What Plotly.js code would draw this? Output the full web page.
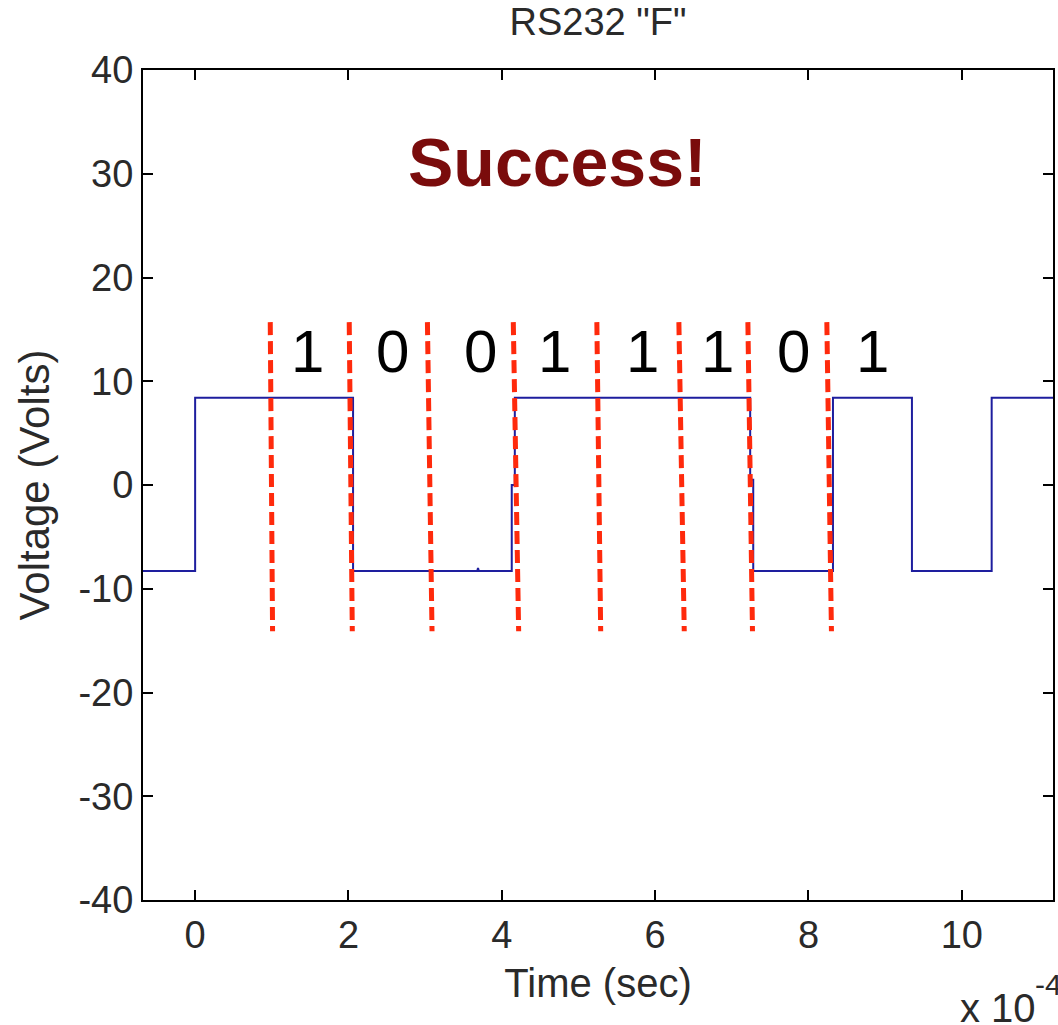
<!DOCTYPE html>
<html>
<head>
<meta charset="utf-8">
<script src="https://cdn.plot.ly/plotly-3.0.1.min.js"></script>
<style>
html,body{margin:0;padding:0;overflow:hidden;background:#fff;}
#chart{width:1058px;height:1025px;}
</style>
</head>
<body>
<div id="chart"></div>
<script>
// Signal (time in units of 1e-4 s, voltage in volts)
const timeX   = [-0.7, 0.0, 0.0, 2.06, 2.06, 3.68, 3.69, 3.70, 4.13, 4.13, 4.17, 4.17, 7.24, 7.24, 7.28, 7.28, 8.32, 8.32, 9.35, 9.35, 10.39, 10.39, 11.3];
const voltage = [-8.3, -8.3, 8.4, 8.4, -8.3, -8.3, -8.0, -8.3, -8.3, 0.0, 0.0, 8.4, 8.4, 0.5, 0.5, -8.3, -8.3, 8.4, 8.4, -8.3, -8.3, 8.4, 8.4];

// Bit boundary markers (red dashed)
const boundaryTop    = [0.98, 2.01, 3.03, 4.15, 5.24, 6.31, 7.21, 8.24];
const boundaryBottom = [1.01, 2.05, 3.09, 4.22, 5.29, 6.38, 7.27, 8.30];
const boundaryYTop = 15.7;
const boundaryYBottom = -14.1;

// Bit labels
const bitLabels = ['1', '0', '0', '1', '1', '1', '0', '1'];
const bitX = [1.47, 2.57, 3.72, 4.69, 5.84, 6.81, 7.80, 8.84];
const bitY = 12.9;

const xTicks = [0, 2, 4, 6, 8, 10];
const yTicks = [-40, -30, -20, -10, 0, 10, 20, 30, 40];

const bx = [], by = [];
for (let i = 0; i < boundaryTop.length; i++) {
  bx.push(boundaryTop[i], boundaryBottom[i], null);
  by.push(boundaryYTop, boundaryYBottom, null);
}

const FONT = 'Liberation Sans, Arial, Helvetica, sans-serif';
const TXT = '#2a2a2a';

const traces = [
  {x: timeX, y: voltage, mode: 'lines', line: {color: '#1e1e9e', width: 2}, hoverinfo: 'skip'},
  {x: bx, y: by, mode: 'lines', line: {color: '#ff2a0c', width: 5, dash: '13px,6px'}, hoverinfo: 'skip'}
];

const W = 1058, H = 1025, ML = 143, MR = 5, MT = 70, MB = 125;
const px = v => (v - ML) / (W - ML - MR);
const py = v => (H - MB - v) / (H - MT - MB);

const annotations = bitLabels.map((t, i) => ({
  x: bitX[i], y: bitY, xref: 'x', yref: 'y', text: t, showarrow: false,
  font: {family: FONT, size: 60, color: '#000'}, xanchor: 'center', yanchor: 'middle'
}));
annotations.push({
  x: 4.73, y: 31.1, xref: 'x', yref: 'y', text: '<b>Success!</b>', showarrow: false,
  font: {family: FONT, size: 68, color: '#7a0c0c'}, xanchor: 'center', yanchor: 'middle'
});
annotations.push({
  x: px(958), y: py(1008), xref: 'paper', yref: 'paper', text: 'x 10', showarrow: false,
  font: {family: FONT, size: 40, color: TXT}, xanchor: 'left', yanchor: 'middle'
});
annotations.push({
  x: px(1033), y: py(984), xref: 'paper', yref: 'paper', text: '-4', showarrow: false,
  font: {family: FONT, size: 30, color: TXT}, xanchor: 'left', yanchor: 'middle'
});

const layout = {
  width: W, height: H,
  margin: {l: ML, r: MR, t: MT, b: MB},
  paper_bgcolor: '#fff', plot_bgcolor: '#fff',
  showlegend: false,
  font: {family: FONT, color: TXT, size: 40},
  title: {text: 'RS232 "F"', font: {family: FONT, size: 38, color: TXT},
          x: 0.5, xref: 'paper', y: 1 - 22 / H, yref: 'container', yanchor: 'middle'},
  xaxis: {
    range: [-0.68, 11.19], tickvals: xTicks, ticktext: xTicks.map(String),
    ticks: 'inside', ticklen: 10, tickwidth: 2, tickcolor: '#000',
    showline: true, linecolor: '#000', linewidth: 2, mirror: 'ticks',
    showgrid: false, zeroline: false,
    tickfont: {family: FONT, size: 38, color: TXT},
    title: {text: 'Time (sec)', font: {family: FONT, size: 40, color: TXT}, standoff: 14}
  },
  yaxis: {
    range: [-40, 40], tickvals: yTicks, ticktext: yTicks.map(String),
    ticks: 'inside', ticklen: 10, tickwidth: 2, tickcolor: '#000',
    showline: true, linecolor: '#000', linewidth: 2, mirror: 'ticks',
    showgrid: false, zeroline: false,
    tickfont: {family: FONT, size: 38, color: TXT},
    title: {text: 'Voltage (Volts)', font: {family: FONT, size: 42, color: TXT}, standoff: 16}
  },
  annotations: annotations
};

Plotly.newPlot('chart', traces, layout, {staticPlot: true, displayModeBar: false});
</script>
</body>
</html>
